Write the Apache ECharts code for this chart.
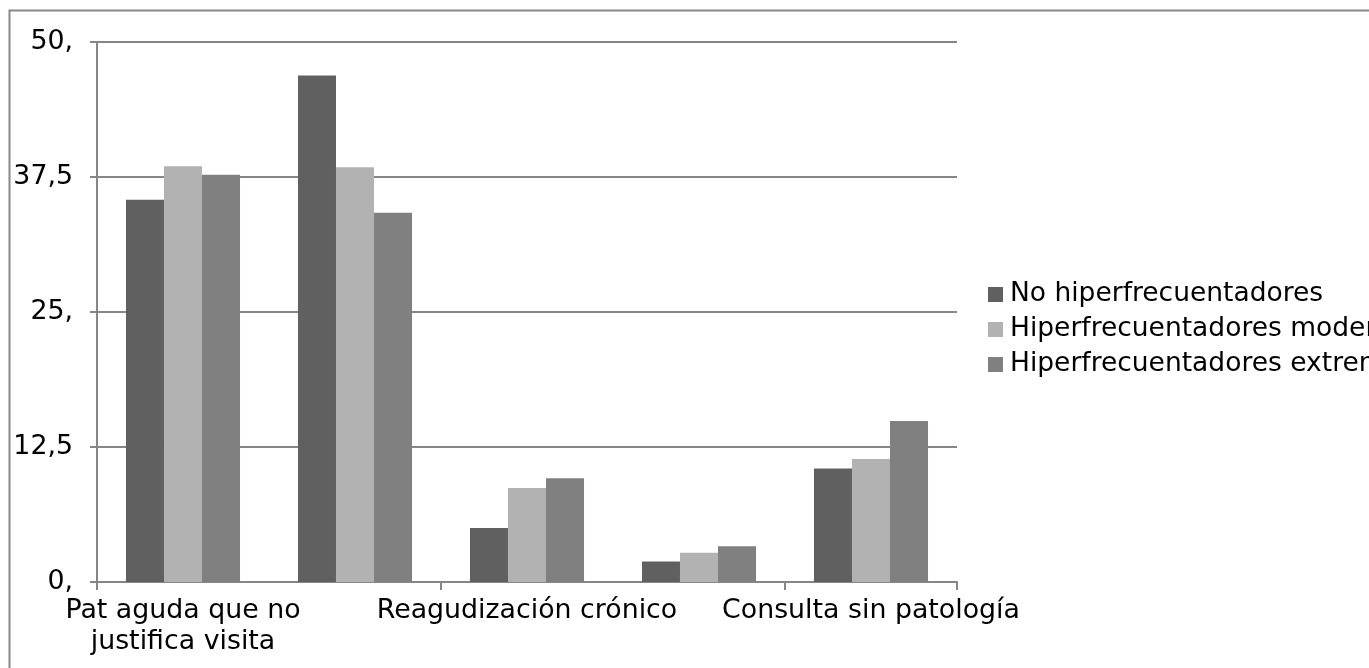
<!DOCTYPE html>
<html><head><meta charset="utf-8">
<script src="https://cdn.jsdelivr.net/npm/echarts@6/dist/echarts.min.js"></script>
<style>html,body{margin:0;padding:0;background:#fff}#c{width:1369px;height:668px}</style>
</head><body><div id="c"></div>
<script>
const categories = ["Pat aguda que no\njustifica visita","Pat aguda que justifica visita","Reagudización crónico","Actividad preventiva","Consulta sin patología"];
const seriesNames = ["No hiperfrecuentadores","Hiperfrecuentadores moderados","Hiperfrecuentadores extremos"];
const noHiper = [35.4, 46.9, 5.0, 1.9, 10.5];
const hiperModerados = [38.5, 38.4, 8.7, 2.7, 11.4];
const hiperExtremos = [37.7, 34.2, 9.6, 3.3, 14.9];
const yTicks = [0, 12.5, 25, 37.5, 50];
const yTickLabels = ["0,", "12,5", "25,", "37,5", "50,"];
const colors = ["#606060", "#b2b2b2", "#808080"];

const font = "DejaVu Sans";
const chart = echarts.init(document.getElementById('c'), null, {renderer:'canvas'});
const mk = (name, data, i) => ({
  name, type:'bar', data, barCategoryGap:'33.7%', barGap:'0%',
  itemStyle:{color:colors[i]}
});
chart.setOption({
  animation:false,
  textStyle:{fontFamily:font},
  graphic:[{type:'rect', left:7, top:8, shape:{width:1400, height:700}, style:{fill:'none', stroke:'#888', lineWidth:2}, z:-1}],
  color:colors,
  grid:{left:97, right:412, top:42, bottom:86, containLabel:false},
  legend:{orient:'vertical', left:983, top:276, itemWidth:15, itemHeight:15, itemGap:8,
    icon:'rect', textStyle:{fontFamily:font, fontSize:26.5, color:'#000', padding:[0,0,0,2]}, data:seriesNames},
  xAxis:{type:'category', data:categories,
    axisLine:{lineStyle:{color:'#868686', width:2}},
    axisTick:{show:true, length:8, lineStyle:{color:'#868686', width:2}},
    axisLabel:{interval:1, fontFamily:font, fontSize:26.8, color:'#000', margin:14, lineHeight:31}},
  yAxis:{type:'value', min:0, max:50, interval:12.5,
    axisLine:{show:true, lineStyle:{color:'#868686', width:2}},
    axisTick:{show:true, length:7, lineStyle:{color:'#868686', width:2}},
    splitLine:{lineStyle:{color:'#868686', width:2}},
    axisLabel:{fontFamily:font, fontSize:26.8, color:'#000', margin:24,
      formatter:v => { const k = yTicks.indexOf(v); return k >= 0 ? yTickLabels[k] : ''; }}},
  series:[mk(seriesNames[0], noHiper, 0), mk(seriesNames[1], hiperModerados, 1), mk(seriesNames[2], hiperExtremos, 2)]
});
</script></body></html>
